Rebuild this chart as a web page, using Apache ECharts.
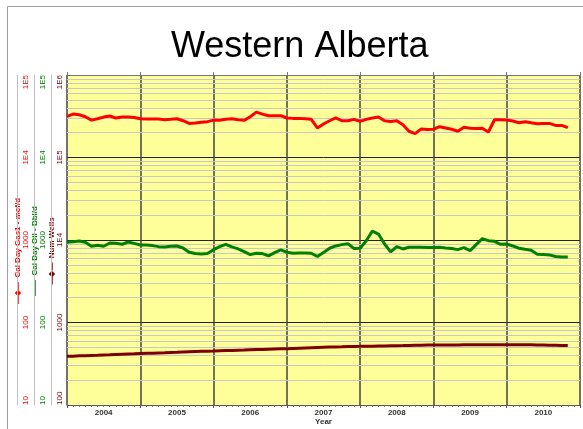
<!DOCTYPE html>
<html>
<head>
<meta charset="utf-8">
<style>
  html, body { margin: 0; padding: 0; background: #fff; }
  #chart { width: 583px; height: 429px; }
</style>
<script src="https://cdn.jsdelivr.net/npm/echarts@6/dist/echarts.min.js"></script>
</head>
<body>
<div id="chart"></div>
<script>
// monthly data, Jan 2004 onwards
const startYear = 2004;
const years = ['2004', '2005', '2006', '2007', '2008', '2009', '2010'];

const gasMcfd = [
  31500, 33600, 33000, 31200, 28400, 29500, 30900, 31800, 30100, 30900, 30900, 30600,
  29500, 29200, 29200, 29200, 28700, 29000, 29500, 27900, 25900, 26200, 26700, 27200,
  28400, 28200, 29000, 29500, 28700, 28200, 31200, 35500, 33600, 32100, 32100, 32100,
  30100, 29800, 29800, 29500, 29000, 22800, 25500, 27900, 30300, 27900, 27900, 29000,
  27400, 29000, 30100, 30900, 27900, 27400, 27900, 25000, 20800, 19500, 22200, 21800,
  22000, 23600, 22800, 22000, 20800, 23200, 22600, 22400, 22600, 20400, 28700, 28700,
  28400, 27700, 26400, 27200, 26400, 25700, 25900, 25900, 24500, 24500, 23000
];

const oilBbld = [
  937, 955, 972, 937, 839, 862, 839, 920, 911, 887, 946, 911,
  870, 870, 855, 831, 824, 839, 847, 801, 710, 685, 678, 685,
  764, 831, 887, 824, 779, 723, 666, 691, 685, 641, 704, 758,
  710, 691, 698, 698, 691, 630, 704, 794, 847, 879, 903, 787,
  794, 981, 1284, 1181, 895, 717, 831, 779, 816, 816, 816, 809,
  809, 816, 801, 787, 764, 809, 744, 879, 1038, 981, 964, 887,
  895, 847, 794, 772, 751, 672, 666, 660, 630, 624, 624
];

const numWells = [
  389, 391, 394, 396, 399, 401, 404, 406, 409, 412, 415, 417,
  420, 423, 425, 428, 430, 433, 435, 438, 441, 444, 447, 449,
  451, 454, 457, 459, 462, 464, 467, 470, 472, 475, 478, 480,
  482, 485, 488, 491, 494, 497, 500, 503, 506, 508, 511, 513,
  514, 516, 517, 519, 520, 522, 524, 525, 527, 529, 530, 532,
  533, 534, 534, 535, 535, 536, 536, 537, 537, 538, 538, 539,
  539, 539, 538, 537, 536, 535, 533, 531, 529, 527, 525
];

// log minor grid values on the wells scale
const minorGrid = [
  200, 300, 400, 500, 600, 700, 800, 900,
  2000, 3000, 4000, 5000, 6000, 7000, 8000, 9000,
  20000, 30000, 40000, 50000, 60000, 70000, 80000, 90000,
  200000, 300000, 400000, 500000, 600000, 700000, 800000, 900000
];

const toPairs = arr => arr.map((v, i) => [startYear + i / 12, v]);

const logLabel = v => (v >= 10000 ? '1E' + Math.round(Math.log10(v)) : String(v));

function leftAxis(name, color, mark, min, max, offset, split) {
  return {
    type: 'log',
    logBase: 10,
    min: min,
    max: max,
    position: 'left',
    offset: offset,
    name: '{m|' + mark + '}  ' + name,
    nameLocation: 'middle',
    nameGap: -1,
    nameMoveOverlap: false,
    nameTextStyle: {
      color: color,
      fontSize: 8,
      fontWeight: 'bold',
      fontFamily: 'Liberation Sans',
      verticalAlign: 'middle',
      padding: [0, 22, 0, 0],
      rich: { m: { color: color, fontSize: 8 } }
    },
    axisLine: { show: true, lineStyle: { color: '#c0c0c0', width: 1 } },
    axisTick: { show: false },
    axisLabel: {
      inside: true,
      rotate: 90,
      margin: 5,
      color: color,
      fontSize: 8,
      fontFamily: 'Liberation Sans',
      formatter: logLabel,
      alignMinLabel: 'left',
      alignMaxLabel: 'right'
    },
    splitLine: split
      ? { show: true, lineStyle: { color: '#222', width: 1 } }
      : { show: false }
  };
}

const chart = echarts.init(document.getElementById('chart'));
chart.setOption({
  animation: false,
  title: {
    text: 'Western Alberta',
    left: 166,
    top: 24,
    textStyle: { fontSize: 36, fontWeight: 'normal', fontFamily: 'Liberation Sans', color: '#000' }
  },
  graphic: [{
    type: 'rect',
    shape: { x: 7.5, y: 6.5, width: 600, height: 460 },
    style: { fill: 'none', stroke: '#a0a0a0', lineWidth: 1 },
    silent: true
  }],
  grid: {
    left: 67, right: 3, top: 75, bottom: 24,
    outerBoundsMode: 'none',
    containLabel: false,
    show: true, backgroundColor: '#ffff99', borderWidth: 0
  },
  xAxis: [{
    type: 'value',
    min: 2004, max: 2011, interval: 1,
    axisLine: { show: true, lineStyle: { color: '#555' } },
    axisTick: { show: true, length: 3, lineStyle: { color: '#555' } },
    minorTick: { show: true, splitNumber: 12, length: 2, lineStyle: { color: '#777' } },
    axisLabel: { show: false },
    splitLine: { show: true, lineStyle: { color: '#444', width: 1.5 } }
  }, {
    type: 'category',
    data: years,
    position: 'bottom',
    boundaryGap: true,
    axisLine: { show: false },
    axisTick: { show: false },
    axisLabel: { margin: 4, fontSize: 8, fontWeight: 'bold', color: '#333', fontFamily: 'Liberation Sans' },
    name: 'Year',
    nameLocation: 'middle',
    nameGap: 13,
    nameMoveOverlap: false,
    nameTextStyle: { fontSize: 8, fontWeight: 'bold', color: '#333', fontFamily: 'Liberation Sans' }
  }, {
    type: 'value',
    min: 2004, max: 2011, interval: 1,
    position: 'top',
    axisLine: { show: true, lineStyle: { color: '#777' } },
    axisTick: { show: true, length: 3, lineStyle: { color: '#777' } },
    axisLabel: { show: false },
    splitLine: { show: false }
  }],
  yAxis: [
    leftAxis('Cal Day Gas1 - mcf/d', '#ff0000', '—◆—', 10, 100000, 50, false),
    leftAxis('Cal Day Oil - Bbl/d', '#008000', '——', 10, 100000, 33, false),
    leftAxis('Num Wells', '#800000', '—◆—', 100, 1000000, 16, true)
  ],
  series: [{
    name: 'Num Wells',
    type: 'line',
    xAxisIndex: 0,
    yAxisIndex: 2,
    data: toPairs(numWells),
    showSymbol: false,
    z: 3,
    lineStyle: { color: '#800000', width: 3 },
    markLine: {
      z: 1,
      silent: true,
      symbol: ['none', 'none'],
      label: { show: false },
      lineStyle: { color: '#c8c8c8', width: 1, type: 'solid' },
      emphasis: { disabled: true },
      data: minorGrid.map(v => ({ yAxis: v }))
    }
  }, {
    name: 'Cal Day Oil - Bbl/d',
    type: 'line',
    xAxisIndex: 0,
    yAxisIndex: 1,
    data: toPairs(oilBbld),
    showSymbol: false,
    z: 4,
    lineStyle: { color: '#008000', width: 3 }
  }, {
    name: 'Cal Day Gas1 - mcf/d',
    type: 'line',
    xAxisIndex: 0,
    yAxisIndex: 0,
    data: toPairs(gasMcfd),
    showSymbol: false,
    z: 5,
    lineStyle: { color: '#ff0000', width: 3 }
  }]
});
</script>
</body>
</html>
